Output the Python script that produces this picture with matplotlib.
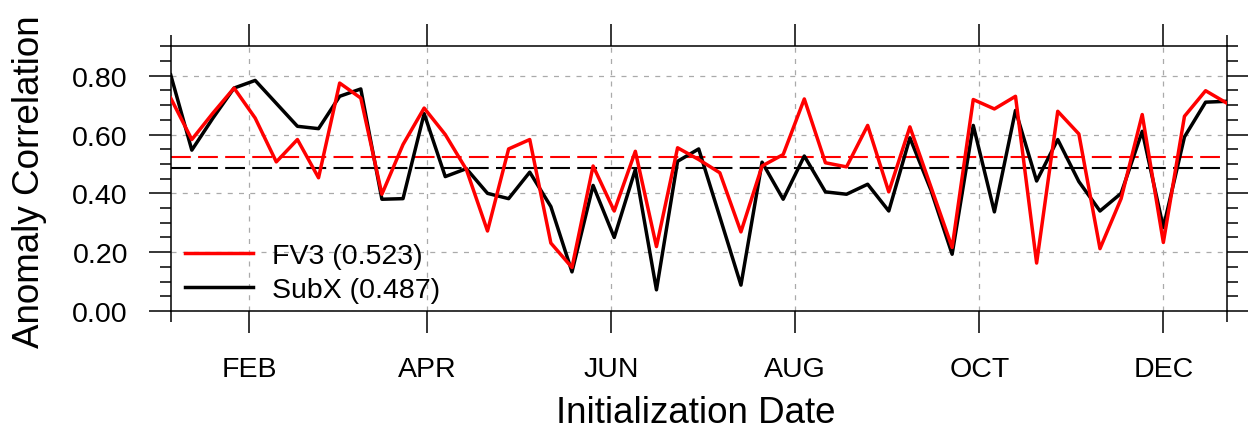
import matplotlib
matplotlib.use("Agg")
import matplotlib.pyplot as plt
import matplotlib.dates as mdates
import pandas as pd
from matplotlib.ticker import MultipleLocator, FormatStrFormatter, FixedLocator

plt.rcParams['font.family'] = ['Liberation Sans', 'DejaVu Sans']

# ---- data ----
init_dates = pd.date_range('2017-01-06', periods=51, freq='7D')
fv3 = [0.724, 0.583, 0.673, 0.758, 0.656, 0.507, 0.583, 0.453, 0.775, 0.724,
       0.397, 0.566, 0.690, 0.600, 0.481, 0.272, 0.551, 0.583, 0.231, 0.148,
       0.493, 0.340, 0.543, 0.219, 0.555, 0.515, 0.470, 0.269, 0.493, 0.532,
       0.721, 0.504, 0.490, 0.631, 0.405, 0.626, 0.421, 0.216, 0.719, 0.687,
       0.730, 0.163, 0.679, 0.602, 0.212, 0.382, 0.668, 0.233, 0.662, 0.749,
       0.707]
subx = [0.803, 0.547, 0.656, 0.758, 0.784, 0.706, 0.628, 0.620, 0.730, 0.755,
        0.380, 0.382, 0.671, 0.457, 0.484, 0.400, 0.382, 0.472, 0.355, 0.133,
        0.427, 0.250, 0.481, 0.072, 0.509, 0.551, 0.320, 0.088, 0.506, 0.380,
        0.527, 0.405, 0.397, 0.431, 0.340, 0.589, 0.410, 0.193, 0.631, 0.337,
        0.682, 0.442, 0.583, 0.440, 0.340, 0.400, 0.611, 0.284, 0.592, 0.710,
        0.713]
fv3_mean = 0.523
subx_mean = 0.487
month_ticks = pd.to_datetime(['2017-02-01', '2017-04-01', '2017-06-01',
                              '2017-08-01', '2017-10-01', '2017-12-01'])
month_labels = ['FEB', 'APR', 'JUN', 'AUG', 'OCT', 'DEC']

# ---- figure ----
W, H = 1248, 439
fig = plt.figure(figsize=(W / 100, H / 100), dpi=100)
L, R, T, B = 170.7, 1226.7, 47.3, 312.0
ax = fig.add_axes([L / W, 1 - B / H, (R - L) / W, (B - T) / H])

ax.plot(init_dates, subx, color='black', lw=2.5, label='SubX (%.3f)' % subx_mean, zorder=3)
ax.plot(init_dates, fv3, color='#FF0000', lw=2.5, label='FV3 (%.3f)' % fv3_mean, zorder=4)
ax.axhline(fv3_mean, color='#FF0000', lw=1.5, linestyle=(0, (9.5, 3.5)), zorder=2)
ax.axhline(subx_mean, color='black', lw=1.5, linestyle=(0, (9.5, 3.5)), zorder=2)

ax.set_xlim(init_dates[0], init_dates[-1])
ax.set_ylim(0, 0.9)

ax.xaxis.set_major_locator(FixedLocator(mdates.date2num(month_ticks)))
ax.set_xticklabels(month_labels)
ax.xaxis.set_minor_locator(FixedLocator(mdates.date2num([init_dates[0], init_dates[-1]])))
ax.yaxis.set_major_locator(MultipleLocator(0.2))
ax.yaxis.set_minor_locator(MultipleLocator(0.05))
ax.yaxis.set_major_formatter(FormatStrFormatter('%.2f'))

ax.grid(True, which='major', color='#AAAAAA', lw=0.9, linestyle=(0, (4, 5)), zorder=1)

ax.tick_params(which='both', direction='out', top=True, right=True, width=1.1, color='black')
ax.tick_params(which='major', length=15.8)
ax.tick_params(which='minor', length=7.9)
ax.tick_params(axis='x', which='major', labelsize=20.5, pad=16.5)
ax.tick_params(axis='y', which='major', labelsize=20.5, pad=15)
for s in ax.spines.values():
    s.set_linewidth(1.1)

fig.text(30 / W, 1 - 181.5 / H, 'Anomaly Correlation', rotation=90,
         ha='center', va='center', fontsize=26.5)
fig.text(696 / W, 1 - 423 / H, 'Initialization Date', ha='center',
         va='baseline', fontsize=26.5)

handles, labels = ax.get_legend_handles_labels()
leg = ax.legend(handles[::-1], labels[::-1], loc='lower left',
                bbox_to_anchor=(0.0135, 0.03), frameon=False, fontsize=20.5,
                handlelength=2.4, handletextpad=0.67, labelspacing=0.3,
                borderpad=0, borderaxespad=0)

fig.savefig('out.png', dpi=100)
